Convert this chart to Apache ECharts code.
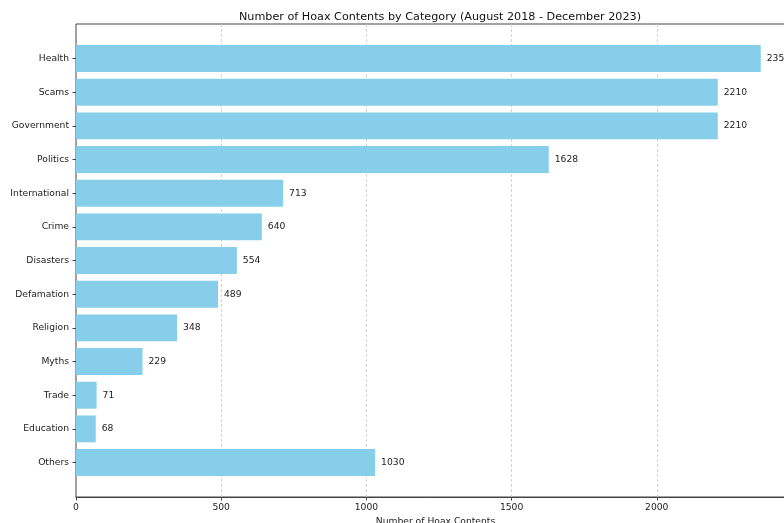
<!DOCTYPE html>
<html>
<head>
<meta charset="utf-8">
<script src="https://cdn.jsdelivr.net/npm/echarts@6/dist/echarts.min.js"></script>
<style>
  html, body { margin: 0; padding: 0; background: #fff; }
  #chart { width: 784px; height: 523px; }
</style>
</head>
<body>
<div id="chart"></div>
<script>
var categories = ['Health', 'Scams', 'Government', 'Politics', 'International', 'Crime',
    'Disasters', 'Defamation', 'Religion', 'Myths', 'Trade', 'Education', 'Others'];
var counts = [2358, 2210, 2210, 1628, 713, 640, 554, 489, 348, 229, 71, 68, 1030];
var xTicks = [0, 500, 1000, 1500, 2000];

var chart = echarts.init(document.getElementById('chart'));
var font = 'DejaVu Sans';
var xMax = 2476;

var option = {
    animation: false,
    textStyle: { fontFamily: font },
    title: {
        text: 'Number of Hoax Contents by Category (August 2018 - December 2023)',
        left: 435,
        textAlign: 'center',
        top: 7,
        textStyle: { fontFamily: font, fontSize: 11.2, fontWeight: 'normal', color: '#111' }
    },
    grid: [
        // frame + x axis
        { left: 76, width: 719, top: 24, bottom: 26, show: true, borderColor: '#444', borderWidth: 1,
          backgroundColor: 'transparent', outerBoundsMode: 'none' },
        // bars
        { left: 76, width: 719, top: 41.7, height: 437.7, outerBoundsMode: 'none' }
    ],
    xAxis: [
        {
            gridIndex: 0, type: 'value', min: 0, max: xMax, interval: 500,
            name: 'Number of Hoax Contents', nameLocation: 'middle', nameGap: 19,
            nameTextStyle: { fontSize: 9.2, color: '#222' },
            axisLine: { show: true, lineStyle: { color: '#444' } },
            axisTick: { show: true, length: 3.5, lineStyle: { color: '#444' } },
            axisLabel: {
                fontSize: 9.2, color: '#222', margin: 6,
                formatter: function (v) { return xTicks.indexOf(v) >= 0 ? String(v) : ''; }
            },
            splitLine: { show: true, showMinLine: false, lineStyle: { color: '#c8c8c8', type: [3, 2], width: 0.8 } }
        },
        {
            gridIndex: 1, type: 'value', min: 0, max: xMax, show: false
        }
    ],
    yAxis: [
        { gridIndex: 0, type: 'value', show: false },
        {
            gridIndex: 1, type: 'category', data: categories, inverse: true,
            axisLine: { show: false },
            axisTick: { show: true, alignWithLabel: true, length: 3.5, lineStyle: { color: '#444' } },
            axisLabel: { fontSize: 9.2, color: '#222', margin: 7 },
            splitLine: { show: false }
        }
    ],
    series: [
        {
            type: 'bar',
            xAxisIndex: 1,
            yAxisIndex: 1,
            data: counts,
            barWidth: '80%',
            itemStyle: { color: '#87CEEB' },
            label: {
                show: true, position: 'right', distance: 6,
                fontSize: 9.2, color: '#222'
            }
        }
    ]
};

chart.setOption(option);
</script>
</body>
</html>
